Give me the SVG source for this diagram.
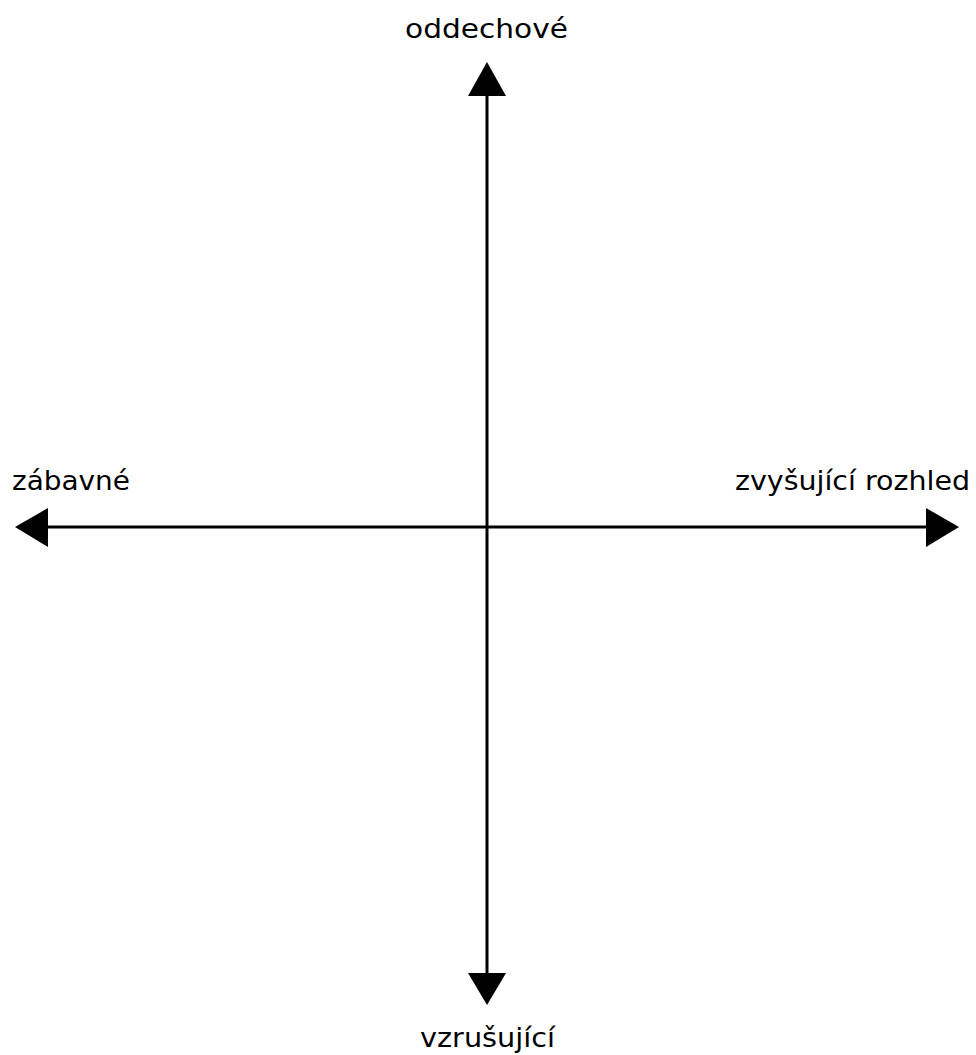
<svg xmlns="http://www.w3.org/2000/svg" width="976" height="1055" viewBox="0 0 976 1055">
<style>
.lbl{font-family:"DejaVu Sans","Liberation Sans",sans-serif;font-size:26px;fill:#000}
.ax{stroke:#000;stroke-width:3;fill:none}
.head{fill:#000}
</style>
<rect width="976" height="1055" fill="#fff"/>
<g id="connectors">
<line class="ax" x1="487" y1="94" x2="487" y2="975"/>
<line class="ax" x1="46" y1="527" x2="928" y2="527"/>
<polygon class="head" points="487,62 506,96 468,96"/>
<polygon class="head" points="487,1005 506,973 468,973"/>
<polygon class="head" points="15,527 48,508 48,547"/>
<polygon class="head" points="959,527 926,508 926,547"/>
</g>
<g id="node-top"><text class="lbl" x="405" y="38" textLength="163" lengthAdjust="spacingAndGlyphs">oddechové</text></g>
<g id="node-left"><text class="lbl" x="12" y="490" textLength="118" lengthAdjust="spacingAndGlyphs">zábavné</text></g>
<g id="node-right"><text class="lbl" x="735" y="490" textLength="235" lengthAdjust="spacingAndGlyphs">zvyšující rozhled</text></g>
<g id="node-bottom"><text class="lbl" x="420" y="1047" textLength="135" lengthAdjust="spacingAndGlyphs">vzrušující</text></g>
</svg>
